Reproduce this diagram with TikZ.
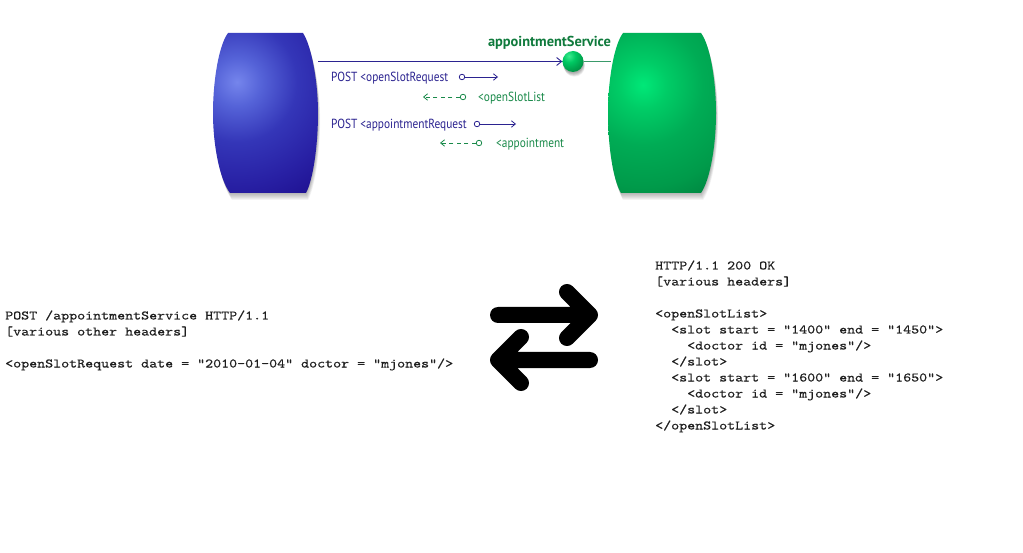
\documentclass[tikz,border=0pt]{standalone}
\usepackage{fontspec}
\newfontfamily\lblfont[FakeStretch=0.86]{PT Sans}
\newfontfamily\boldlblfont{PT Sans Bold}
\newfontfamily\codefont[FakeStretch=1.172,FakeBold=0.3]{lmmono10-regular.otf}
\usetikzlibrary{arrows.meta}
\definecolor{navy}{HTML}{2B2390}
\definecolor{gtext}{HTML}{1A8A4A}
\definecolor{gdark}{HTML}{0F7A3C}
\definecolor{gline}{HTML}{3A9A6A}
\definecolor{codecol}{HTML}{1E1E1E}
\definecolor{bl0}{HTML}{7585EC}
\definecolor{bl1}{HTML}{5563D8}
\definecolor{bl2}{HTML}{3436B8}
\definecolor{bl3}{HTML}{2820A4}
\definecolor{bl4}{HTML}{1A0A88}
\definecolor{gr0}{HTML}{00E878}
\definecolor{gr1}{HTML}{00CC66}
\definecolor{gr2}{HTML}{00AC55}
\definecolor{gr3}{HTML}{009A4A}
\definecolor{gr4}{HTML}{007438}
\definecolor{ba0}{HTML}{3CEB8E}
\definecolor{ba1}{HTML}{00C862}
\definecolor{ba2}{HTML}{00A44E}
\definecolor{ba3}{HTML}{008A40}
\pgfdeclareradialshading{bluegrad}{\pgfpoint{0bp}{0bp}}{color(0bp)=(bl0); color(4bp)=(bl1); color(10bp)=(bl2); color(17bp)=(bl3); color(25bp)=(bl4); color(50bp)=(bl4)}
\pgfdeclareradialshading{greengrad}{\pgfpoint{0bp}{0bp}}{color(0bp)=(gr0); color(4bp)=(gr1); color(10bp)=(gr2); color(17bp)=(gr3); color(25bp)=(gr4); color(50bp)=(gr4)}
\pgfdeclareradialshading{ballgrad}{\pgfpoint{0bp}{0bp}}{color(0bp)=(ba0); color(9bp)=(ba1); color(18bp)=(ba2); color(25bp)=(ba3); color(50bp)=(ba3)}
\begin{document}
\begin{tikzpicture}[x=1pt,y=-1pt,
  bluepath/.style={insert path={(228,33) -- (303,33) .. controls (311,45) and (318,80) .. (318,113) .. controls (318,146) and (313,180) .. (306,193) -- (230,193) .. controls (220,180) and (213,146) .. (213,113) .. controls (213,80) and (219,45) .. (228,33) -- cycle}},
  greenpath/.style={insert path={(623,33) -- (701,33) .. controls (710,45) and (716,80) .. (716,113) .. controls (716,146) and (710,180) .. (701,193) -- (621,193) .. controls (613,180) and (608,146) .. (608,113) .. controls (608,80) and (614,45) .. (623,33) -- cycle}},
  lbl/.style={inner sep=0pt, anchor=base west, font=\lblfont\fontsize{13.2}{15}\selectfont},
  code/.style={inner sep=0pt, anchor=base west, text=codecol, font=\codefont\fontsize{13}{16}\selectfont},
  smallc/.style={circle, line width=0.8pt, inner sep=0pt, minimum size=5.5pt, fill=white},
  tip/.style={-{Straight Barb[length=4pt,width=6.5pt]}},
  bigarrow/.style={line width=16pt, line cap=round, line join=round, black}
]
\useasboundingbox (0,0) rectangle (1023,553);
\fill[white] (0,0) rectangle (1023,553);

% shadows
\foreach \d in {1,2,3,4,5,6,7} {
  \path[fill=black, fill opacity=0.045, shift={(0.3*\d,\d)}, bluepath];
  \path[fill=black, fill opacity=0.045, shift={(0.3*\d,\d)}, greenpath];
  \fill[black, fill opacity=0.05] (573+0.2*\d,62+0.6*\d) circle (10.5);
}

% blue shape
\begin{scope}
  \clip[bluepath];
  \shade[shading=bluegrad] (237,82) circle (150);
\end{scope}

% green shape
\begin{scope}
  \clip[greenpath];
  \shade[shading=greengrad] (643,85) circle (150);
\end{scope}

% service ball and main connector
\coordinate (bR) at (318,61.5);
\coordinate (gL) at (611,61.5);
\node[circle, minimum size=21pt, inner sep=0pt] (svc) at (573,61.5) {};
\begin{scope}
  \clip (svc.center) circle (10.5);
  \shade[shading=ballgrad] (569,56) circle (18);
\end{scope}
\draw[navy, line width=0.9pt, -{Straight Barb[length=5pt,width=8pt]}] (bR) -- (svc);
\draw[gline, line width=0.9pt] (svc) -- (gL);
\node[inner sep=0pt, anchor=base, text=gdark, font=\boldlblfont\fontsize{14.4}{16}\selectfont] (svcl) at (549.5,46.5) {appointmentService};

% row 1
\node[lbl, text=navy] (t1) at (331,81.5) {POST <openSlotRequest};
\node[smallc, draw=navy] (c1) at (462,77) {};
\coordinate (e1) at (498,77);
\draw[navy, line width=0.8pt, tip] (c1) -- (e1);

% row 2
\node[smallc, draw=gtext] (c2) at (463,97) {};
\coordinate (e2) at (423,97);
\draw[gtext, line width=0.8pt, dash pattern=on 4pt off 3.5pt, tip] (c2) -- (e2);
\node[lbl, text=gtext] (t2) at (478,101.5) {<openSlotList};

% row 3
\node[lbl, text=navy] (t3) at (331,128.5) {POST <appointmentRequest};
\node[smallc, draw=navy] (c3) at (477,124) {};
\coordinate (e3) at (516,124);
\draw[navy, line width=0.8pt, tip] (c3) -- (e3);

% row 4
\node[smallc, draw=gtext] (c4) at (479,143) {};
\coordinate (e4) at (440,143);
\draw[gtext, line width=0.8pt, dash pattern=on 4pt off 3.5pt, tip] (c4) -- (e4);
\node[lbl, text=gtext] (t4) at (496,147.5) {<appointment};

% exchange icon
\draw[bigarrow] (498,315) -- (590,315) (567,292) -- (590,315) -- (567,338);
\draw[bigarrow] (590,360) -- (498,360) (521,337) -- (498,360) -- (521,383);

% request
\node[code] (q1) at (5,319.5) {POST /appointmentService HTTP/1.1};
\node[code] (q2) at (5,335.5) {[various other headers]};
\node[code] (q3) at (5,367.5) {<openSlotRequest date = "2010-01-04" doctor = "mjones"/>};

% response
\node[code] (r1) at (655,269.5) {HTTP/1.1 200 OK};
\node[code] (r2) at (655,285.5) {[various headers]};
\node[code] (r3) at (655,317.5) {<openSlotList>};
\node[code] (r4) at (671,333.5) {<slot start = "1400" end = "1450">};
\node[code] (r5) at (687,349.5) {<doctor id = "mjones"/>};
\node[code] (r6) at (671,365.5) {</slot>};
\node[code] (r7) at (671,381.5) {<slot start = "1600" end = "1650">};
\node[code] (r8) at (687,397.5) {<doctor id = "mjones"/>};
\node[code] (r9) at (671,413.5) {</slot>};
\node[code] (r10) at (655,429.5) {</openSlotList>};
\end{tikzpicture}
\end{document}
